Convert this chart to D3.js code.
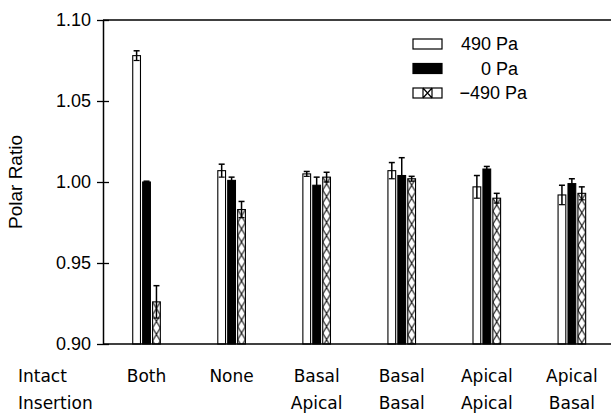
<!DOCTYPE html>
<html><head><meta charset="utf-8">
<script src="https://cdn.jsdelivr.net/npm/d3@7"></script>
<style>body{margin:0;background:#fff}svg{display:block}</style>
</head><body>
<svg id="c" width="611" height="414"></svg>
<script>
const categories = ["Both","None","Basal Apical","Basal Basal","Apical Apical","Apical Basal"];
const series = ["490 Pa","0 Pa","\u2212490 Pa"];
const v490  = [1.078, 1.007, 1.005, 1.007, 0.997, 0.992];
const e490  = [0.003, 0.004, 0.0015, 0.005, 0.007, 0.006];
const v0    = [1.000, 1.001, 0.998, 1.004, 1.008, 0.999];
const e0    = [0.0005, 0.002, 0.005, 0.011, 0.0016, 0.003];
const vm490 = [0.926, 0.983, 1.003, 1.002, 0.990, 0.993];
const em490 = [0.010, 0.005, 0.003, 0.0015, 0.003, 0.004];
const yTicks = [0.90, 0.95, 1.00, 1.05, 1.10];
const rowLabels = ["Intact","Insertion"];

(function(){
const svg = d3.select("#c");
const pl = 103, pr = 611, pt = 20, pb = 344;
const x0 = d3.scaleBand().domain(categories).range([104, 614.4]).padding(0);
const x1 = d3.scaleBand().domain(series).range([-13.8, 13.8]).paddingInner(0.22);
const y = d3.scaleLinear().domain([0.90, 1.10]).range([pb, pt]);

const values = [v490, v0, vm490], errs = [e490, e0, em490];
const data = [];
categories.forEach((c, i) => series.forEach((s, j) => data.push({c, s, j, v: values[j][i], e: errs[j][i]})));

const defs = svg.append("defs");
const g = svg.append("g");

data.forEach((d, k) => {
  const bx = x0(d.c) + x0.bandwidth()/2 + x1(d.s);
  const bw = x1.bandwidth();
  const by = y(d.v), bh = y(0.90) - y(d.v);
  if (d.j === 2) {
    const id = "xp" + k;
    const p = defs.append("pattern").attr("id", id).attr("patternUnits", "userSpaceOnUse")
      .attr("x", bx).attr("y", by).attr("width", bw).attr("height", 13);
    p.append("rect").attr("width", bw).attr("height", 13).attr("fill", "#fff");
    p.append("path").attr("d", `M0,0L${bw},13M${bw},0L0,13`).attr("stroke", "#000").attr("stroke-width", 1).attr("fill", "none");
    g.append("rect").attr("x", bx).attr("y", by).attr("width", bw).attr("height", bh)
      .attr("fill", `url(#${id})`).attr("stroke", "#000").attr("stroke-width", 1.1);
  } else {
    g.append("rect").attr("x", bx).attr("y", by).attr("width", bw).attr("height", bh)
      .attr("fill", d.j === 1 ? "#000" : "#fff").attr("stroke", "#000").attr("stroke-width", 1.1);
  }
  const cx = bx + bw/2;
  const yt = y(d.v + d.e), yb = y(d.v - d.e);
  g.append("line").attr("x1", cx).attr("x2", cx).attr("y1", yt).attr("y2", yb).attr("stroke", "#000").attr("stroke-width", 1.5);
  g.append("line").attr("x1", cx - 3).attr("x2", cx + 3).attr("y1", yt).attr("y2", yt).attr("stroke", "#000").attr("stroke-width", 1.5);
  g.append("line").attr("x1", cx - 3).attr("x2", cx + 3).attr("y1", yb).attr("y2", yb).attr("stroke", "#000").attr("stroke-width", 1.2);
});

svg.append("line").attr("x1", pl).attr("x2", pr).attr("y1", pt).attr("y2", pt).attr("stroke", "#000").attr("stroke-width", 1.3);
svg.append("line").attr("x1", pl).attr("x2", pr).attr("y1", pb).attr("y2", pb).attr("stroke", "#000").attr("stroke-width", 1.3);

const yAxis = d3.axisLeft(y).tickValues(yTicks).tickFormat(d3.format(".2f")).tickSizeInner(6).tickSizeOuter(0).tickPadding(5);
const ya = svg.append("g").attr("transform", `translate(${pl},0)`).call(yAxis);
ya.select(".domain").attr("stroke", "#000").attr("stroke-width", 1.5);
ya.selectAll(".tick line").attr("x1", -6).attr("x2", 6).attr("stroke-width", 1.3);
ya.selectAll(".tick text").attr("font-family", "Liberation Sans, Arial, sans-serif").attr("font-size", 18).attr("fill", "#000").attr("x", -12);

svg.append("text").attr("transform", `translate(22,182) rotate(-90)`).attr("text-anchor", "middle")
  .attr("font-family", "Liberation Sans, Arial, sans-serif").attr("font-size", 19).text("Polar Ratio");

const catFont = "DejaVu Sans, sans-serif";
svg.append("text").attr("x", 18).attr("y", 382).attr("font-family", catFont).attr("font-size", 17).text(rowLabels[0]);
svg.append("text").attr("x", 18).attr("y", 409).attr("font-family", catFont).attr("font-size", 17).text(rowLabels[1]);
categories.forEach(c => {
  const parts = c.split(" ");
  const cx = x0(c) + x0.bandwidth()/2;
  parts.forEach((p, i) => svg.append("text").attr("x", cx).attr("y", 382 + 27*i).attr("text-anchor", "middle")
    .attr("font-family", catFont).attr("font-size", 17).text(p));
});

const lg = svg.append("g");
series.forEach((s, j) => {
  const ly = 39 + j*24.5;
  lg.append("rect").attr("x", 413).attr("y", ly).attr("width", 29).attr("height", 10)
    .attr("fill", j === 1 ? "#000" : "#fff").attr("stroke", "#000").attr("stroke-width", 1.2);
  if (j === 2) lg.append("path").attr("d", `M423,${ly}L432,${ly+10}M432,${ly}L423,${ly+10}M423,${ly}V${ly+10}M432,${ly}V${ly+10}`)
    .attr("stroke", "#000").attr("stroke-width", 1.2).attr("fill", "none");
  lg.append("text").attr("x", j === 2 ? 527 : 518).attr("y", ly + 11).attr("text-anchor", "end")
    .attr("font-family", "Liberation Sans, Arial, sans-serif").attr("font-size", 18).text(s);
});
})();
</script>
</body></html>
